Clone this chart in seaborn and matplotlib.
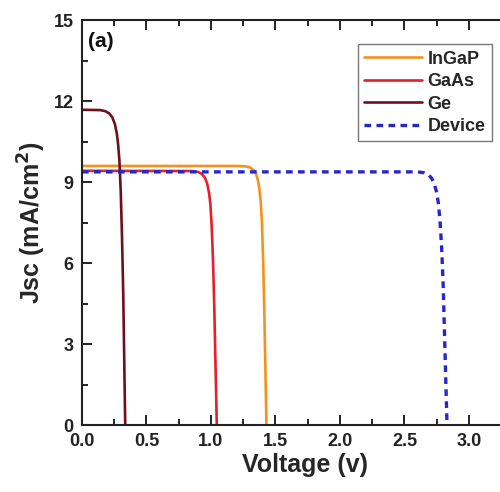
import numpy as np
import pandas as pd
import matplotlib
matplotlib.use("Agg")
import matplotlib.pyplot as plt
import seaborn as sns
from matplotlib.ticker import MultipleLocator, FormatStrFormatter

# Data (voltage in V, current density in mA/cm^2)
ingap_v = [0.0, 1.20, 1.26, 1.30, 1.33, 1.350, 1.365, 1.375, 1.385, 1.395, 1.405, 1.415, 1.43]
ingap_j = [9.60, 9.60, 9.59, 9.55, 9.45, 9.30, 9.05, 8.75, 8.30, 7.50, 6.00, 3.80, 0.0]

gaas_v = [0.0, 0.85, 0.90, 0.93, 0.955, 0.970, 0.985, 0.995, 1.005, 1.015, 1.025, 1.045]
gaas_j = [9.42, 9.41, 9.38, 9.30, 9.15, 8.95, 8.60, 8.20, 7.40, 6.20, 4.50, 0.0]

ge_v = [0.0, 0.14, 0.18, 0.21, 0.235, 0.255, 0.270, 0.280, 0.290, 0.300, 0.310, 0.320, 0.335]
ge_j = [11.68, 11.67, 11.63, 11.55, 11.40, 11.15, 10.80, 10.40, 9.80, 8.70, 7.00, 4.80, 0.0]

dev_v = [0.0, 2.60, 2.65, 2.685, 2.71, 2.730, 2.748, 2.762, 2.775, 2.788, 2.80, 2.83]
dev_j = [9.38, 9.38, 9.35, 9.28, 9.15, 8.95, 8.65, 8.25, 7.60, 6.60, 5.20, 0.0]

labels = ["InGaP", "GaAs", "Ge", "Device"]
colors = ["#F5921E", "#E3202C", "#6E101C", "#2626CC"]

sns.set_theme(style="ticks")
plt.rcParams['font.family'] = ['Liberation Sans', 'DejaVu Sans']
plt.rcParams['font.weight'] = 'bold'
plt.rcParams['mathtext.default'] = 'bf'

fig = plt.figure(figsize=(5.0, 4.92), dpi=100)
ax = fig.add_axes([0.164, 0.136, 0.890, 0.823])

series = [(ingap_v, ingap_j), (gaas_v, gaas_j), (ge_v, ge_j), (dev_v, dev_j)]
for (v, j), lab, col in zip(series, labels, colors):
    df = pd.DataFrame({"V": v, "J": j})
    dashed = lab == "Device"
    sns.lineplot(data=df, x="V", y="J", ax=ax, color=col, label=lab,
                 sort=False, estimator=None,
                 linewidth=2.4 if dashed else 1.9,
                 linestyle=(0, (2.0, 1.6)) if dashed else "-")

ax.set_xlim(0, 3.45)
ax.set_ylim(0, 15)
ax.xaxis.set_major_locator(MultipleLocator(0.5))
ax.xaxis.set_minor_locator(MultipleLocator(0.25))
ax.yaxis.set_major_locator(MultipleLocator(3))
ax.yaxis.set_minor_locator(MultipleLocator(1.5))
ax.tick_params(which='both', direction='in', top=True, right=True, width=1.4, colors='#222222')
ax.tick_params(which='major', length=7, labelsize=13, pad=6)
ax.tick_params(which='minor', length=4)
ax.xaxis.set_major_formatter(FormatStrFormatter('%.1f'))
for lbl in ax.get_xticklabels() + ax.get_yticklabels():
    lbl.set_fontweight('bold')
for s in ax.spines.values():
    s.set_linewidth(1.5)
    s.set_color('#222222')

ax.set_xlabel("Voltage (v)", fontsize=18, fontweight='bold', labelpad=2)
ax.set_ylabel(r"Jsc (mA/cm$^{\mathbf{2}}$)", fontsize=18, fontweight='bold', labelpad=4)

ax.text(0.05, 14.0, "(a)", fontsize=15, fontweight='bold', color='#111111')

leg = ax.legend(loc='upper left', bbox_to_anchor=(0.62, 0.94), frameon=True,
                fancybox=False, edgecolor='#555555', fontsize=13,
                handlelength=3.2, handletextpad=0.3, labelspacing=0.3,
                borderpad=0.35, borderaxespad=0)
leg.get_frame().set_linewidth(1.0)
for t in leg.get_texts():
    t.set_fontweight('bold')

fig.savefig("out.png", dpi=100)
